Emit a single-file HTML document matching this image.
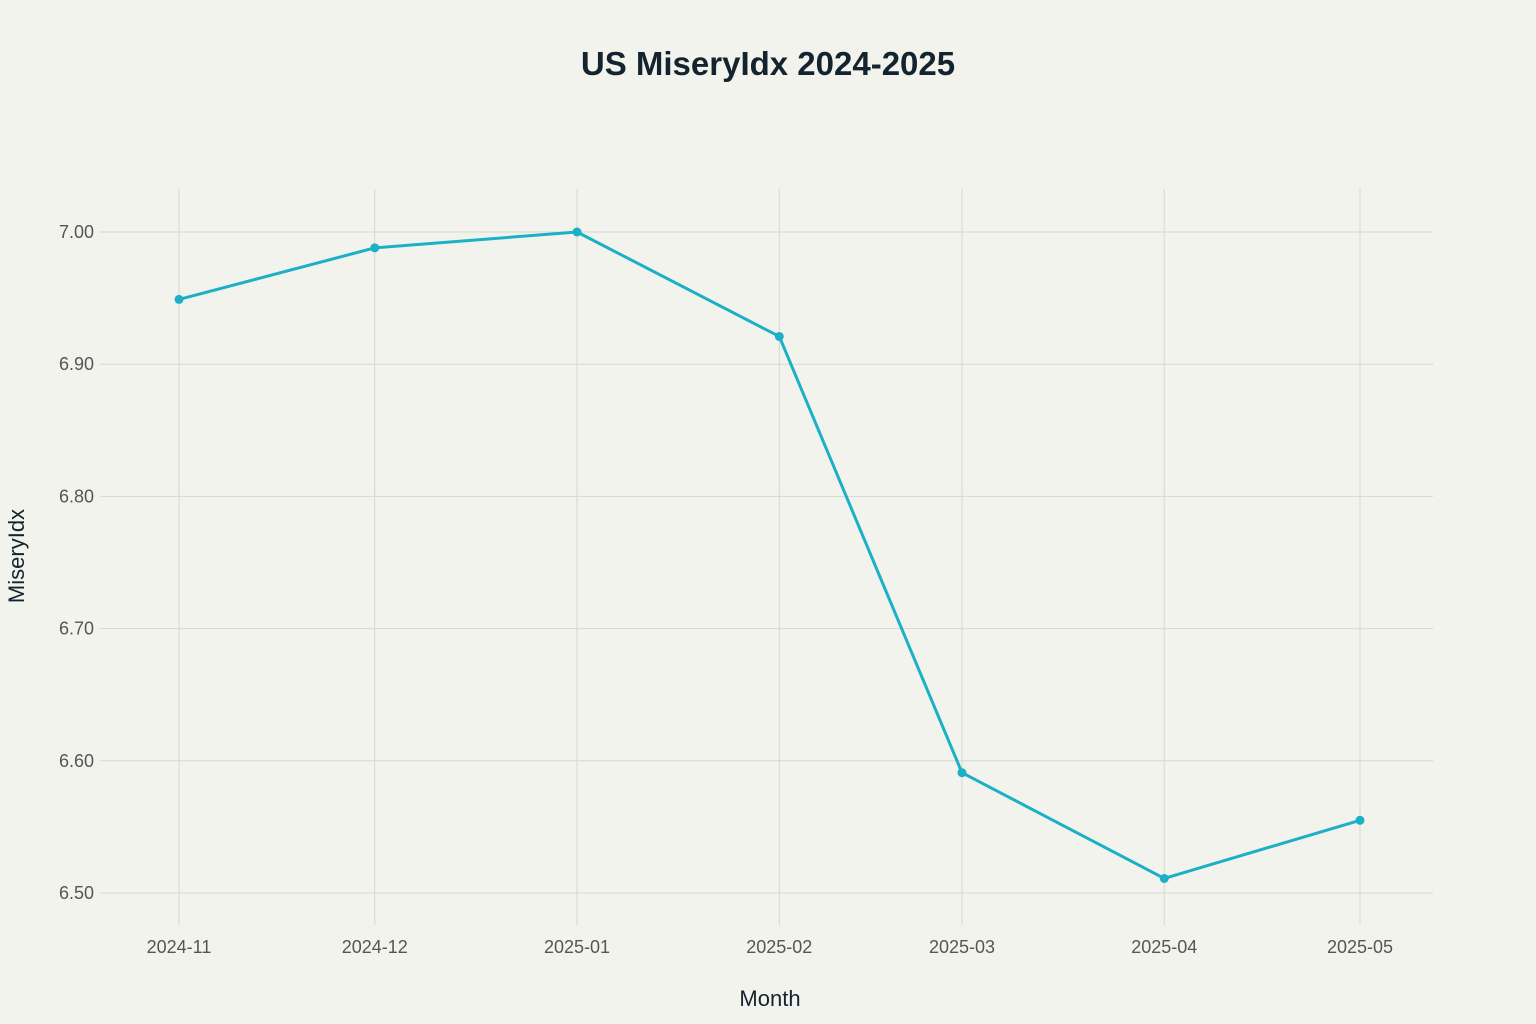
<!DOCTYPE html>
<html><head><meta charset="utf-8"><style>
body{margin:0;background:#f3f3ee;}
svg{display:block;font-family:"Liberation Sans",sans-serif;}
</style></head><body>
<svg id="chart" width="1536" height="1024">
<rect width="1536" height="1024" fill="#f3f3ee"/>
<text x="768" y="75" text-anchor="middle" font-size="33" font-weight="bold" fill="#13242f">US MiseryIdx 2024-2025</text>
<text x="770" y="1006" text-anchor="middle" font-size="22" fill="#13242f">Month</text>
<text transform="translate(24,556) rotate(-90)" text-anchor="middle" font-size="22" fill="#13242f">MiseryIdx</text>
<g id="grid"></g><g id="series"></g><g id="axes"></g>
</svg>
<script>
const categories=["2024-11","2024-12","2025-01","2025-02","2025-03","2025-04","2025-05"];
const values=[6.949,6.988,7.00,6.921,6.591,6.511,6.555];
const yTicks=[6.5,6.6,6.7,6.8,6.9,7.0];
const NS="http://www.w3.org/2000/svg";
const t0=Date.UTC(2024,10,1);
function day(c){const [y,m]=c.split("-").map(Number);return (Date.UTC(y,m-1,1)-t0)/86400000;}
const span=day(categories[categories.length-1]);
function xs(c){return 179+day(c)*(1360-179)/span;}
function ys(v){return 232+(7.0-v)*(893-232)/0.5;}
function mk(tag,attrs,parent){const e=document.createElementNS(NS,tag);for(const k in attrs)e.setAttribute(k,attrs[k]);document.getElementById(parent).appendChild(e);return e;}
yTicks.forEach(v=>{
 const l=mk("line",{x1:100,x2:1433,y1:ys(v),y2:ys(v),stroke:"#d6d6d2","stroke-width":1},"grid");
 
 
 const t=mk("text",{x:94,y:ys(v)+6,"text-anchor":"end","font-size":18,fill:"#555"},"axes");
 t.textContent=v.toFixed(2);
 
 
});
categories.forEach(c=>{
 const l=mk("line",{x1:xs(c),x2:xs(c),y1:189,y2:925,stroke:"#d6d6d2","stroke-width":1},"grid");
 
 
 const t=mk("text",{x:xs(c),y:953,"text-anchor":"middle","font-size":18,fill:"#555"},"axes");
 t.textContent=c;
 
 
});
const pts=categories.map((c,i)=>xs(c)+","+ys(values[i])).join(" ");
const pl=mk("polyline",{points:pts,fill:"none",stroke:"#1bb0c6","stroke-width":3,"stroke-linejoin":"round"},"series");


categories.forEach((c,i)=>{
 const p=mk("circle",{cx:xs(c),cy:ys(values[i]),r:4.5,fill:"#1bb0c6"},"series");
 
 
});
</script>
</body></html>
